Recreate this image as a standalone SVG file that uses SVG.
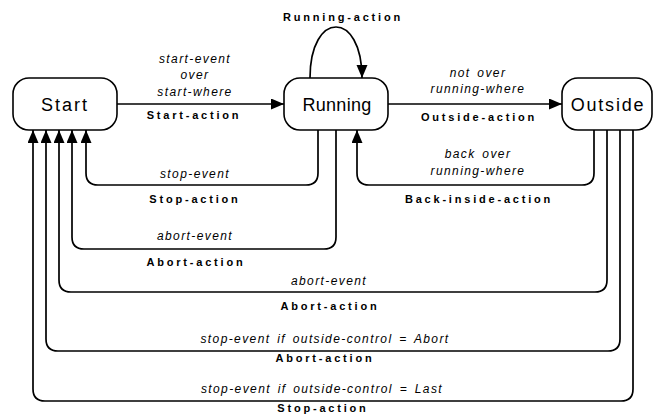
<svg xmlns="http://www.w3.org/2000/svg" width="656" height="414" viewBox="0 0 656 414">
<style>
.box{fill:#fff;stroke:#000;stroke-width:1.6}
.node{font-family:"Liberation Sans",Arial,sans-serif;font-size:18px;fill:#000;text-anchor:middle}
.ev{font-family:"Liberation Sans",Arial,sans-serif;font-size:12px;font-style:italic;fill:#000;text-anchor:middle;letter-spacing:1.4px;word-spacing:2px}
.act{font-family:"Liberation Sans",Arial,sans-serif;font-size:11px;font-weight:bold;fill:#000;text-anchor:middle;letter-spacing:2.8px}
.c{fill:none;stroke:#000;stroke-width:1.7}
</style>
<defs>
<marker id="ah" markerUnits="userSpaceOnUse" markerWidth="14" markerHeight="12" refX="13" refY="5.5" orient="auto">
<path d="M0,0 L13,5.5 L0,11 z" fill="#000"/>
</marker>
</defs>
<g id="connectors">
<path class="c" d="M117,104 H284" marker-end="url(#ah)"/>
<path class="c" d="M310,78 C310,10 362,10 362,78" marker-end="url(#ah)"/>
<path class="c" d="M388,104 H562" marker-end="url(#ah)"/>
<path class="c" d="M594,130 V173 Q594,185 582,185 H369 Q357,185 357,173 V130" marker-end="url(#ah)"/>
<path class="c" d="M318,130 V173 Q318,185 306,185 H98 Q86,185 86,173 V130" marker-end="url(#ah)"/>
<path class="c" d="M336,130 V237 Q336,249 324,249 H84 Q72,249 72,237 V130" marker-end="url(#ah)"/>
<path class="c" d="M607,130 V280 Q607,292 595,292 H71 Q59,292 59,280 V130" marker-end="url(#ah)"/>
<path class="c" d="M620,130 V339 Q620,351 608,351 H58 Q46,351 46,339 V130" marker-end="url(#ah)"/>
<path class="c" d="M633,130 V389 Q633,401 621,401 H45 Q33,401 33,389 V130" marker-end="url(#ah)"/>
</g>
<g id="labels">
<text class="ev" x="195" y="63">start-event</text>
<text class="ev" x="195" y="79">over</text>
<text class="ev" x="195" y="96">start-where</text>
<text class="act" x="194" y="119">Start-action</text>
<text class="act" x="343" y="21">Running-action</text>
<text class="ev" x="478" y="77">not over</text>
<text class="ev" x="478" y="93">running-where</text>
<text class="act" x="479" y="121">Outside-action</text>
<text class="ev" x="478" y="158">back over</text>
<text class="ev" x="478" y="175">running-where</text>
<text class="act" x="479" y="203">Back-inside-action</text>
<text class="ev" x="195" y="178">stop-event</text>
<text class="act" x="195" y="203">Stop-action</text>
<text class="ev" x="195" y="240">abort-event</text>
<text class="act" x="196" y="266">Abort-action</text>
<text class="ev" x="329" y="285">abort-event</text>
<text class="act" x="330" y="310">Abort-action</text>
<text class="ev" x="325" y="343">stop-event if outside-control = Abort</text>
<text class="act" x="325" y="362">Abort-action</text>
<text class="ev" x="322" y="393">stop-event if outside-control = Last</text>
<text class="act" x="323" y="412">Stop-action</text>
</g>
<g id="start">
<rect class="box" x="13" y="78" width="104" height="52" rx="16"/>
<text class="node" x="65" y="111" style="letter-spacing:2px">Start</text>
</g>
<g id="running">
<rect class="box" x="284" y="78" width="104" height="52" rx="16"/>
<text class="node" x="337" y="111" style="letter-spacing:0.3px">Running</text>
</g>
<g id="outside">
<rect class="box" x="562" y="78" width="90" height="52" rx="16"/>
<text class="node" x="608" y="111" style="letter-spacing:1.8px">Outside</text>
</g>
</svg>
